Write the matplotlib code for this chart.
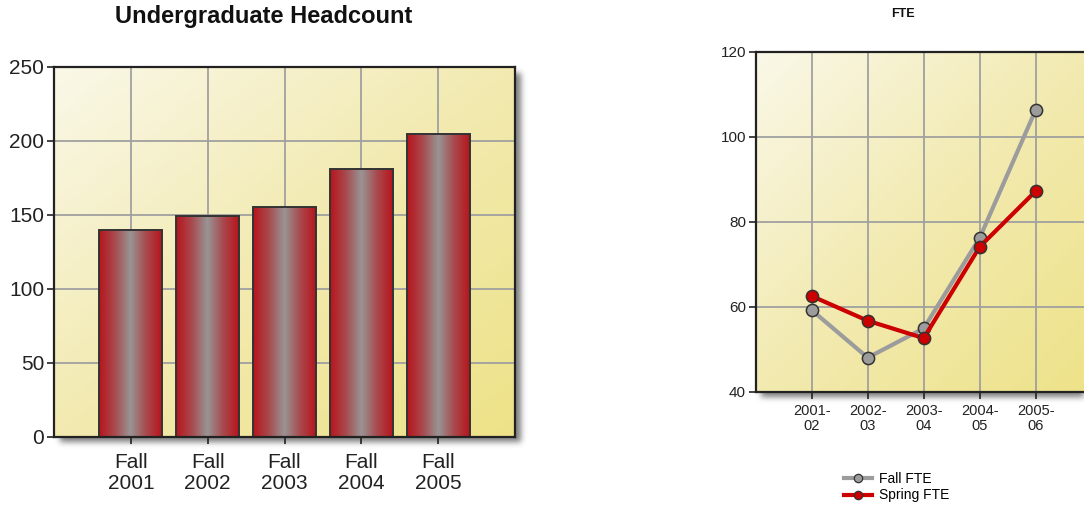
import numpy as np
import matplotlib
matplotlib.use("Agg")
import matplotlib.pyplot as plt
from matplotlib.colors import LinearSegmentedColormap
from matplotlib.lines import Line2D

plt.rcParams['font.family'] = ['Liberation Sans', 'DejaVu Sans']

# ---- data ----
hc_labels = ["Fall\n2001", "Fall\n2002", "Fall\n2003", "Fall\n2004", "Fall\n2005"]
hc_values = [140, 149, 155, 181, 205]

fte_labels = ["2001-\n02", "2002-\n03", "2003-\n04", "2004-\n05", "2005-\n06"]
fall_fte = [59.2, 48.0, 54.9, 76.2, 106.3]
spring_fte = [62.5, 56.7, 52.6, 74.1, 87.2]

W, H = 1084, 505
fig = plt.figure(figsize=(W / 100, H / 100), dpi=100)

# full-figure layer underneath everything for the drop shadows
under = fig.add_axes([0, 0, 1, 1], zorder=-5)
under.set_xlim(0, W)
under.set_ylim(H, 0)
under.axis("off")
shadow_alpha = np.zeros((H, W))

bg_cmap = LinearSegmentedColormap.from_list("bg", ["#faf8e8", "#f2eab0", "#eee288"])
bar_cmap = LinearSegmentedColormap.from_list(
    "bar", ["#b8141c", "#a84a4e", "#989494", "#a84a4e", "#b8141c"])
ink = "#222222"


def px_axes(x0, y0, x1, y1):
    return fig.add_axes([x0 / W, 1 - y1 / H, (x1 - x0) / W, (y1 - y0) / H], zorder=2)


def add_shadow(x0, y0, x1, y1, off=6):
    shadow_alpha[int(y0 + off):int(y1 + off), int(x0 + off):int(min(x1 + off, W))] = 1.0


def blur(a, sigma=3.0):
    k = np.exp(-0.5 * (np.arange(-10, 11) / sigma) ** 2)
    k /= k.sum()
    a = np.apply_along_axis(lambda r: np.convolve(r, k, mode="same"), 1, a)
    return np.apply_along_axis(lambda c: np.convolve(c, k, mode="same"), 0, a)


def paint_background(ax):
    g = np.add.outer(np.linspace(0, 1, 200), np.linspace(0, 1, 200)) / 2
    ax.imshow(g, cmap=bg_cmap, extent=[0, 1, 0, 1], transform=ax.transAxes,
              aspect="auto", origin="upper", zorder=0, interpolation="bilinear")


def style_axes(ax, fs):
    for s in ax.spines.values():
        s.set_color(ink)
        s.set_linewidth(1.6)
        s.set_zorder(5)
    ax.grid(True, color="#a0a0a0", lw=1.3, zorder=1)
    ax.set_axisbelow(True)
    ax.tick_params(direction="out", length=5, width=1.2, color=ink,
                   labelsize=fs, labelcolor="#222222", pad=2)


# ---- left: headcount bars ----
L = (54, 67, 515, 436.5)
add_shadow(*L)
ax1 = px_axes(*L)
paint_background(ax1)
xs = np.arange(len(hc_values))
bars = ax1.bar(xs, hc_values, width=0.816, facecolor="none",
               edgecolor="#333333", linewidth=1.4, zorder=4)
grad = np.linspace(0, 1, 256).reshape(1, -1)
for b in bars:
    x0 = b.get_x()
    im = ax1.imshow(grad, cmap=bar_cmap, aspect="auto",
                    extent=[x0, x0 + b.get_width(), 0, b.get_height()],
                    zorder=3, interpolation="bilinear")
    im.set_clip_path(b)
ax1.set_xlim(-1, len(hc_values))
ax1.set_ylim(0, 250)
ax1.set_yticks(range(0, 251, 50))
ax1.set_xticks(xs)
ax1.set_xticklabels(hc_labels, linespacing=1.12)
style_axes(ax1, 15)
ax1.tick_params(axis="x", pad=7)
fig.text(263.5 / W, 1 - 17 / H, "Undergraduate Headcount", ha="center",
         va="center", fontsize=17, fontweight="bold", color="#111111")

# ---- right: FTE lines ----
R = (755.7, 51.7, 1091.7, 391.7)
add_shadow(*R)
ax2 = px_axes(*R)
paint_background(ax2)
xf = np.arange(len(fall_fte))
ax2.plot(xf, fall_fte, color="#9c9c9c", lw=3.0, marker="o", ms=8.8,
         mfc="#9c9c9c", mec="#333333", mew=1.1, zorder=4)
ax2.plot(xf, spring_fte, color="#cc0000", lw=3.0, marker="o", ms=8.8,
         mfc="#cc0000", mec="#333333", mew=1.1, zorder=4)
ax2.set_xlim(-1, len(fall_fte))
ax2.set_ylim(40, 120)
ax2.set_yticks(range(40, 121, 20))
ax2.set_xticks(xf)
ax2.set_xticklabels(fte_labels, linespacing=1.05)
style_axes(ax2, 11)
ax2.tick_params(axis="x", labelsize=10.5, pad=4)
fig.text(903 / W, 1 - 14 / H, "FTE", ha="center", va="center",
         fontsize=9, fontweight="bold", color="#111111")

# blurred shadow raster behind both frames
rgba = np.zeros((H, W, 4))
rgba[..., :3] = 0.15
rgba[..., 3] = 0.6 * blur(shadow_alpha)
under.imshow(rgba, extent=[0, W, H, 0], aspect="auto", interpolation="bilinear")

handles = [
    Line2D([], [], color="#9c9c9c", lw=3, marker="o", ms=6, mfc="#9c9c9c",
           mec="#333333", mew=0.9),
    Line2D([], [], color="#cc0000", lw=3, marker="o", ms=6, mfc="#cc0000",
           mec="#333333", mew=0.9),
]
fig.legend(handles, ["Fall FTE", "Spring FTE"], loc="center",
           bbox_to_anchor=(897 / W, 1 - 487 / H), frameon=False, fontsize=10,
           handlelength=2.0, handletextpad=0.5, labelspacing=0.2)

fig.savefig("out.png", dpi=100)
